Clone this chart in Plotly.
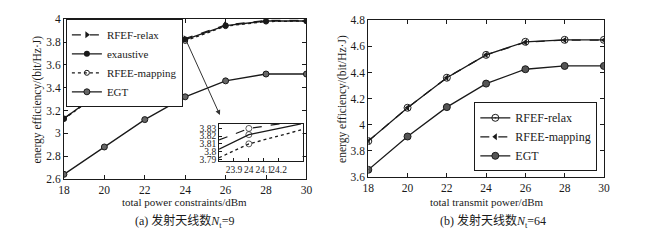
import plotly.graph_objects as go

# ---- data ----
power = [18, 20, 22, 24, 26, 28, 30]

# panel (a) Nt=9
a_relax = [3.13, 3.39, 3.61, 3.83, 3.95, 3.99, 3.99]
a_exaustive = [3.13, 3.385, 3.60, 3.822, 3.945, 3.985, 3.985]
a_mapping = [3.125, 3.38, 3.595, 3.81, 3.94, 3.98, 3.985]
a_egt = [2.64, 2.88, 3.12, 3.32, 3.46, 3.52, 3.52]

# inset of panel (a)
inset_x = [23.8, 24.0, 24.35]
inset_relax = [3.815, 3.830, 3.840]
inset_exaustive = [3.803, 3.822, 3.836]
inset_mapping = [3.792, 3.810, 3.828]

# panel (b) Nt=64
b_relax = [3.875, 4.13, 4.36, 4.535, 4.635, 4.65, 4.65]
b_mapping = [3.875, 4.13, 4.36, 4.535, 4.632, 4.648, 4.648]
b_egt = [3.655, 3.91, 4.135, 4.315, 4.425, 4.45, 4.45]

a_yticks = [2.6, 2.8, 3.0, 3.2, 3.4, 3.6, 3.8, 4.0]
a_yticklabels = ["2.6", "2.8", "3", "3.2", "3.4", "3.6", "3.8", "4"]
b_yticks = [3.6, 3.8, 4.0, 4.2, 4.4, 4.6, 4.8]
b_yticklabels = ["3.6", "3.8", "4", "4.2", "4.4", "4.6", "4.8"]
inset_xticks = [23.9, 24.0, 24.1, 24.2]
inset_xticklabels = ["23.9", "24", "24.1", "24.2"]
inset_yticks = [3.79, 3.80, 3.81, 3.82, 3.83]
inset_yticklabels = ["3.79", "3.8", "3.81", "3.82", "3.83"]

W, H = 660, 240
K = "#1a1a1a"
FONT = "Liberation Serif, Times New Roman, Noto Sans CJK SC, serif"

def px(v):
    return v / W

def py(v):
    return 1 - v / H

fig = go.Figure()

# panel (a)
fig.add_trace(go.Scatter(x=power, y=a_relax, name="RFEF-relax", mode="lines+markers",
                         line=dict(color=K, width=1.3, dash="dash"),
                         marker=dict(symbol="triangle-right", size=6, color=K),
                         xaxis="x", yaxis="y", legend="legend"))
fig.add_trace(go.Scatter(x=power, y=a_exaustive, name="exaustive", mode="lines+markers",
                         line=dict(color=K, width=1.3),
                         marker=dict(symbol="circle", size=6, color=K),
                         xaxis="x", yaxis="y", legend="legend"))
fig.add_trace(go.Scatter(x=power, y=a_mapping, name="RFEE-mapping", mode="lines+markers",
                         line=dict(color=K, width=1.3, dash="dot"),
                         marker=dict(symbol="circle-open", size=5, color=K),
                         xaxis="x", yaxis="y", legend="legend"))
fig.add_trace(go.Scatter(x=power, y=a_egt, name="EGT", mode="lines+markers",
                         line=dict(color=K, width=1.3),
                         marker=dict(symbol="circle", size=6, color="#666", line=dict(color=K, width=1)),
                         xaxis="x", yaxis="y", legend="legend"))

# inset
fig.add_trace(go.Scatter(x=inset_x, y=inset_relax, mode="lines+markers", showlegend=False,
                         line=dict(color=K, width=1.3, dash="dash"),
                         marker=dict(symbol="circle-open", size=[0, 6, 0], color=K),
                         xaxis="x3", yaxis="y3"))
fig.add_trace(go.Scatter(x=inset_x, y=inset_exaustive, mode="lines+markers", showlegend=False,
                         line=dict(color=K, width=1.3),
                         marker=dict(symbol="circle-open", size=[0, 6, 0], color=K),
                         xaxis="x3", yaxis="y3"))
fig.add_trace(go.Scatter(x=inset_x, y=inset_mapping, mode="lines+markers", showlegend=False,
                         line=dict(color=K, width=1.3, dash="dot"),
                         marker=dict(symbol="circle-open", size=[0, 6, 0], color=K),
                         xaxis="x3", yaxis="y3"))

# panel (b)
fig.add_trace(go.Scatter(x=power, y=b_relax, name="RFEF-relax", mode="lines+markers",
                         line=dict(color=K, width=1.3),
                         marker=dict(symbol="circle-open-dot", size=7, color=K),
                         xaxis="x2", yaxis="y2", legend="legend2"))
fig.add_trace(go.Scatter(x=power, y=b_mapping, name="RFEE-mapping", mode="lines+markers",
                         line=dict(color=K, width=1.3, dash="dash"),
                         marker=dict(symbol="triangle-left", size=6, color=K),
                         xaxis="x2", yaxis="y2", legend="legend2"))
fig.add_trace(go.Scatter(x=power, y=b_egt, name="EGT", mode="lines+markers",
                         line=dict(color=K, width=1.3),
                         marker=dict(symbol="circle", size=7, color="#555", line=dict(color=K, width=1)),
                         xaxis="x2", yaxis="y2", legend="legend2"))

axis_common = dict(showline=True, linecolor=K, linewidth=1, mirror="ticks", ticks="inside",
                   ticklen=4, tickcolor=K, showgrid=False, zeroline=False,
                   tickfont=dict(family=FONT, size=11.5, color=K))
inset_common = dict(showline=True, linecolor=K, linewidth=1, mirror=True, ticks="inside", ticklen=3,
                    tickcolor=K, showgrid=False, zeroline=False, tickangle=0,
                    tickfont=dict(family=FONT, size=9.5, color=K))

fig.update_layout(
    width=W, height=H,
    margin=dict(l=0, r=0, t=0, b=0),
    paper_bgcolor="white", plot_bgcolor="white",
    font=dict(family=FONT, color=K),
    xaxis=dict(domain=[px(59), px(306)], range=[18, 30], tickvals=power, anchor="y", **axis_common),
    yaxis=dict(domain=[py(182), py(14)], range=[2.6, 4.0], tickvals=a_yticks, ticktext=a_yticklabels,
               anchor="x", **axis_common),
    xaxis2=dict(domain=[px(369), px(609)], range=[18, 30], tickvals=power, anchor="y2", **axis_common),
    yaxis2=dict(domain=[py(180), py(15)], range=[3.6, 4.8], tickvals=b_yticks, ticktext=b_yticklabels,
                anchor="x2", **axis_common),
    xaxis3=dict(domain=[px(217), px(302)], range=[23.8, 24.36], tickvals=inset_xticks,
                ticktext=inset_xticklabels, anchor="y3", **inset_common),
    yaxis3=dict(domain=[py(163), py(124)], range=[3.788, 3.836], tickvals=inset_yticks,
                ticktext=inset_yticklabels, anchor="x3", **inset_common),
    legend=dict(x=px(61), y=py(14), xanchor="left", yanchor="top",
                bgcolor="white", bordercolor=K, borderwidth=1,
                font=dict(family=FONT, size=11, color=K), tracegroupgap=0,
                itemwidth=30),
    legend2=dict(x=px(477), y=py(174), xanchor="left", yanchor="bottom",
                 bgcolor="white", bordercolor=K, borderwidth=1,
                 font=dict(family=FONT, size=12, color=K), tracegroupgap=0,
                 itemwidth=30),
)

fig.add_annotation(x=25.72, y=3.16, ax=24.02, ay=3.825, xref="x", yref="y", axref="x", ayref="y",
                   showarrow=True, arrowhead=2, arrowsize=1, arrowwidth=1, arrowcolor="#333", text="")

def label(x, y, text, size=11.5, angle=0):
    fig.add_annotation(x=px(x), y=py(y), xref="paper", yref="paper", showarrow=False,
                       xanchor="center", yanchor="middle", textangle=angle,
                       text=text, font=dict(family=FONT, size=size, color=K))

# axis titles
label(182, 206, "total power constraints/dBm", size=11)
label(489, 206, "total transmit power/dBm", size=11)
label(32, 98, "energy efficiency/(bit/Hz·J)", size=11.5, angle=-90)
label(342, 98, "energy efficiency/(bit/Hz·J)", size=11.5, angle=-90)

# captions
label(182, 227, "(a) 发射天线数<i>N</i><sub>t</sub>=9", size=12)
label(496, 227, "(b) 发射天线数<i>N</i><sub>t</sub>=64", size=12)

fig.write_html("out.html", config={"displayModeBar": False},
               post_script="document.body.style.margin='0';document.body.style.overflow='hidden';")
